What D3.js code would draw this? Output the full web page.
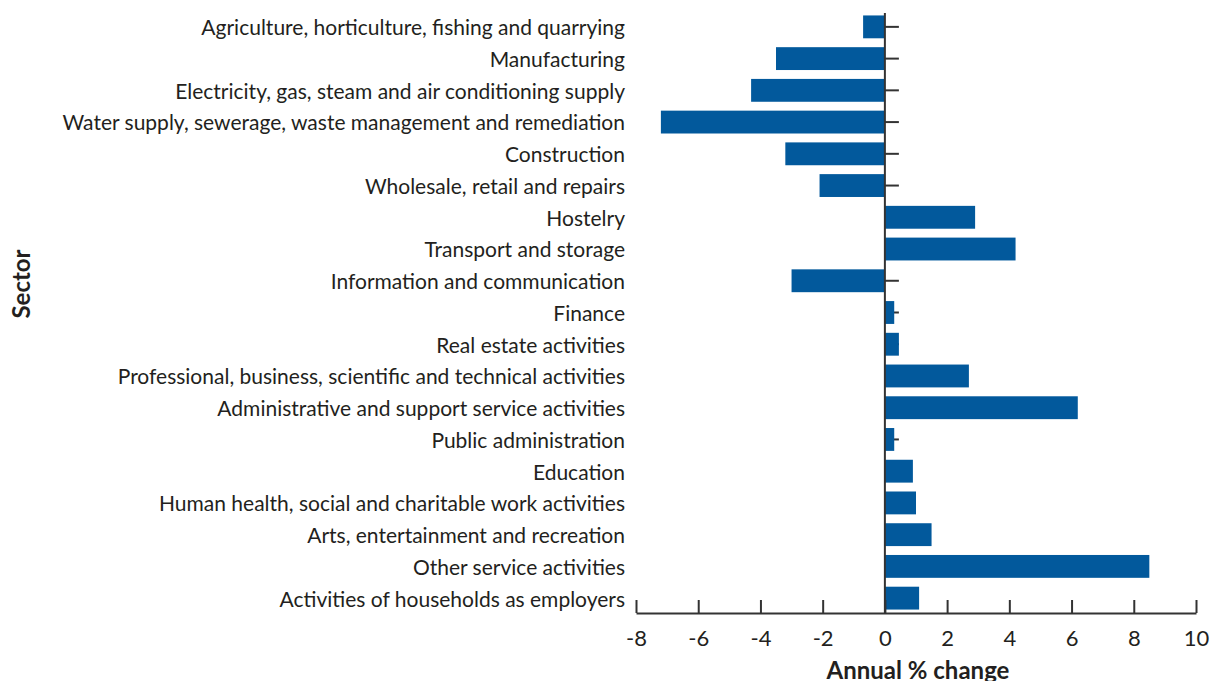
<!DOCTYPE html>
<html>
<head>
<meta charset="utf-8">
<script src="https://cdn.jsdelivr.net/npm/d3@7"></script>
<style>
  body { margin: 0; background: #fff; }
  text { font-family: Lato, "Open Sans", sans-serif; fill: #231f20; }
</style>
</head>
<body>
<div id="chart"></div>
<script>
(function() {

    // Chart size
    var width = 1212;
    var height = 681;

    // Sectors, top to bottom
    var sectors = [
        "Agriculture, horticulture, fishing and quarrying",
        "Manufacturing",
        "Electricity, gas, steam and air conditioning supply",
        "Water supply, sewerage, waste management and remediation",
        "Construction",
        "Wholesale, retail and repairs",
        "Hostelry",
        "Transport and storage",
        "Information and communication",
        "Finance",
        "Real estate activities",
        "Professional, business, scientific and technical activities",
        "Administrative and support service activities",
        "Public administration",
        "Education",
        "Human health, social and charitable work activities",
        "Arts, entertainment and recreation",
        "Other service activities",
        "Activities of households as employers"
    ];

    // Annual % change per sector
    var changes = [-0.7, -3.5, -4.3, -7.2, -3.2, -2.1, 2.9, 4.2, -3.0, 0.3, 0.45, 2.7, 6.2, 0.3, 0.9, 1.0, 1.5, 8.5, 1.1];

    // Tick values on the x axis
    var xTicks = [-8, -6, -4, -2, 0, 2, 4, 6, 8, 10];

    var data = sectors.map(function(s, i) { return { sector: s, value: changes[i] }; });

    var svg = d3.select("#chart")
        .append("svg")
        .attr("width", width)
        .attr("height", height);

    var x = d3.scaleLinear()
        .domain([-8, 10])
        .range([636, 1196]);

    var y = d3.scaleBand()
        .domain(sectors)
        .range([11, 614])
        .paddingInner(0.28)
        .paddingOuter(0.14);

    // small ticks on the zero line, one per sector (behind the bars)
    svg.append("g")
        .selectAll("line")
        .data(sectors)
        .enter().append("line")
        .attr("x1", x(0))
        .attr("x2", x(0) + 14)
        .attr("y1", function(d) { return y(d) + y.bandwidth() / 2; })
        .attr("y2", function(d) { return y(d) + y.bandwidth() / 2; })
        .attr("stroke", "#333")
        .attr("stroke-width", 2);

    // bars
    svg.append("g")
        .selectAll("rect")
        .data(data)
        .enter().append("rect")
        .attr("x", function(d) { return x(Math.min(0, d.value)); })
        .attr("width", function(d) { return Math.abs(x(d.value) - x(0)); })
        .attr("y", function(d) { return y(d.sector); })
        .attr("height", y.bandwidth())
        .attr("fill", "#02599c");

    // zero line
    svg.append("line")
        .attr("x1", x(0))
        .attr("x2", x(0))
        .attr("y1", 13)
        .attr("y2", 613)
        .attr("stroke", "#333")
        .attr("stroke-width", 2);

    // sector labels
    svg.append("g")
        .selectAll("text")
        .data(sectors)
        .enter().append("text")
        .attr("x", 625)
        .attr("y", function(d) { return y(d) + y.bandwidth() / 2; })
        .attr("dy", "0.4em")
        .attr("text-anchor", "end")
        .style("font-size", "21px")
        .text(function(d) { return d; });

    // x axis
    var xAxis = d3.axisBottom(x)
        .tickValues(xTicks)
        .tickSizeInner(-13)
        .tickSizeOuter(0)
        .tickPadding(17)
        .tickFormat(d3.format("d"));

    var gx = svg.append("g")
        .attr("transform", "translate(0,613)")
        .call(xAxis);

    gx.select(".domain").attr("stroke", "#333").attr("stroke-width", 2);
    gx.selectAll(".tick line").attr("stroke", "#333").attr("stroke-width", 2);
    gx.selectAll(".tick text")
        .style("font-size", "22px")
        .style("font-family", "Lato, 'Open Sans', sans-serif")
        .attr("fill", "#231f20")
        .text(function(d) { return d < 0 ? "-" + Math.abs(d) : d; });

    // axis titles
    svg.append("text")
        .attr("x", (x.range()[0] + x.range()[1]) / 2 + 2)
        .attr("y", 679)
        .attr("text-anchor", "middle")
        .style("font-size", "24px")
        .style("font-weight", "bold")
        .text("Annual % change");

    svg.append("text")
        .attr("transform", "translate(30,284) rotate(-90)")
        .attr("text-anchor", "middle")
        .style("font-size", "24px")
        .style("font-weight", "bold")
        .text("Sector");

})();
</script>
</body>
</html>
